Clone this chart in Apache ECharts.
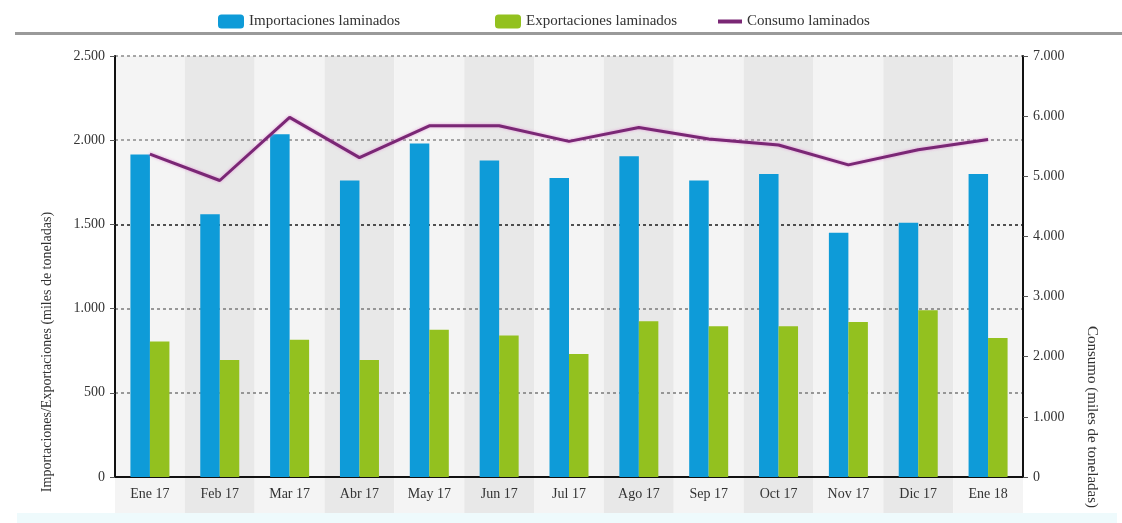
<!DOCTYPE html>
<html>
<head>
<meta charset="utf-8">
<script src="https://cdn.jsdelivr.net/npm/echarts@6/dist/echarts.min.js"></script>
<style>
  html, body { margin: 0; padding: 0; background: #ffffff; }
  #chart { width: 1122px; height: 523px; }
</style>
</head>
<body>
<div id="chart"></div>
<script>
// Monthly steel flat-product figures (miles de toneladas)
const categories = ['Ene 17', 'Feb 17', 'Mar 17', 'Abr 17', 'May 17', 'Jun 17', 'Jul 17',
  'Ago 17', 'Sep 17', 'Oct 17', 'Nov 17', 'Dic 17', 'Ene 18'];
const importaciones = [1915, 1560, 2035, 1760, 1980, 1880, 1775, 1905, 1760, 1800, 1450, 1510, 1800];
const exportaciones = [805, 695, 815, 695, 875, 840, 730, 925, 895, 895, 920, 990, 825];
const consumo = [5370, 4930, 5980, 5310, 5840, 5840, 5580, 5810, 5620, 5520, 5190, 5440, 5610];

const seriesNames = ['Importaciones laminados', 'Exportaciones laminados', 'Consumo laminados'];
const leftAxisTitle = 'Importaciones/Exportaciones (miles de toneladas)';
const rightAxisTitle = 'Consumo (miles de toneladas)';

const FONT = 'Liberation Serif';
const TEXT = '#333333';
const thousands = v => String(v).replace(/\B(?=(\d{3})+(?!\d))/g, '.');

const chart = echarts.init(document.getElementById('chart'), null, { renderer: 'canvas' });

const legendBase = {
  top: 9,
  itemWidth: 26,
  itemHeight: 14,
  itemGap: 8,
  textStyle: { fontFamily: FONT, fontSize: 15, color: TEXT },
  selectedMode: false
};

chart.setOption({
  animation: false,
  backgroundColor: '#ffffff',
  textStyle: { fontFamily: FONT },
  legend: [
    Object.assign({}, legendBase, { left: 213, data: [seriesNames[0]] }),
    Object.assign({}, legendBase, { left: 490, data: [seriesNames[1]] }),
    Object.assign({}, legendBase, { left: 713, data: [{ name: seriesNames[2], icon: 'rect' }], itemHeight: 4, itemWidth: 24 })
  ],
  grid: [
    { left: 115, right: 99, top: 56, bottom: 46 },
    { left: 115, right: 99, top: 478, bottom: 10 }
  ],
  xAxis: [
    {
      type: 'category',
      gridIndex: 0,
      data: categories,
      axisLine: { show: true, lineStyle: { color: '#111', width: 2 } },
      axisTick: { show: false },
      axisLabel: { fontFamily: FONT, fontSize: 14, color: TEXT, margin: 10 },
      splitArea: { show: true, areaStyle: { color: ['#f4f4f4', '#e8e8e8'] } },
      z: 0
    },
    {
      type: 'category',
      gridIndex: 1,
      data: categories,
      axisLine: { show: false },
      axisTick: { show: false },
      axisLabel: { show: false },
      splitArea: { show: true, areaStyle: { color: ['#f4f4f4', '#e8e8e8'] } },
      z: 0
    }
  ],
  yAxis: [
    {
      type: 'value',
      gridIndex: 0,
      min: 0,
      max: 2500,
      interval: 500,
      axisLine: { show: true, lineStyle: { color: '#111', width: 2 } },
      axisTick: { show: true, length: 5, lineStyle: { color: '#555', width: 1 } },
      axisLabel: { fontFamily: FONT, fontSize: 14, color: TEXT, margin: 10, formatter: thousands },
      splitLine: {
        show: true,
        lineStyle: {
          color: ['rgba(0,0,0,0)', '#7a7a7a', '#7a7a7a', '#1a1a1a', '#8a8a8a', '#8a8a8a'],
          type: [3, 3],
          width: 1.5
        }
      },
      z: 2
    },
    {
      type: 'value',
      gridIndex: 0,
      position: 'right',
      min: 0,
      max: 7000,
      interval: 1000,
      axisLine: { show: true, lineStyle: { color: '#111', width: 2 } },
      axisTick: { show: true, length: 5, lineStyle: { color: '#555', width: 1 } },
      axisLabel: { fontFamily: FONT, fontSize: 14, color: TEXT, margin: 10, formatter: thousands },
      splitLine: { show: false },
      z: 3
    },
    {
      type: 'value',
      gridIndex: 1,
      show: false
    }
  ],
  series: [
    {
      name: seriesNames[0],
      type: 'bar',
      xAxisIndex: 0,
      yAxisIndex: 0,
      data: importaciones,
      barWidth: 19.5,
      barGap: '0%',
      itemStyle: { color: '#0e9bd8' },
      z: 4
    },
    {
      name: seriesNames[1],
      type: 'bar',
      xAxisIndex: 0,
      yAxisIndex: 0,
      data: exportaciones,
      barWidth: 19.5,
      barGap: '0%',
      itemStyle: { color: '#93c11f' },
      z: 4
    },
    {
      name: seriesNames[2],
      type: 'line',
      xAxisIndex: 0,
      yAxisIndex: 1,
      data: consumo,
      symbol: 'none',
      lineStyle: {
        color: '#7a2775',
        width: 3,
        shadowColor: 'rgba(225, 130, 210, 0.8)',
        shadowBlur: 3
      },
      itemStyle: { color: '#7a2775' },
      z: 5
    }
  ],
  graphic: [
    {
      type: 'rect',
      left: 15,
      top: 32,
      shape: { width: 1107, height: 3 },
      style: { fill: '#9a9a9a' },
      silent: true
    },
    {
      type: 'rect',
      left: 17,
      top: 513,
      shape: { width: 1100, height: 10 },
      style: { fill: '#eefafc' },
      silent: true,
      z: -1
    },
    {
      type: 'text',
      x: 47,
      y: 352,
      rotation: Math.PI / 2,
      style: {
        text: leftAxisTitle,
        fontFamily: FONT,
        fontSize: 14,
        fill: TEXT,
        align: 'center',
        verticalAlign: 'middle'
      },
      silent: true
    },
    {
      type: 'text',
      x: 1092,
      y: 417,
      rotation: -Math.PI / 2,
      style: {
        text: rightAxisTitle,
        fontFamily: FONT,
        fontSize: 15,
        fill: TEXT,
        align: 'center',
        verticalAlign: 'middle'
      },
      silent: true
    }
  ]
});
</script>
</body>
</html>
